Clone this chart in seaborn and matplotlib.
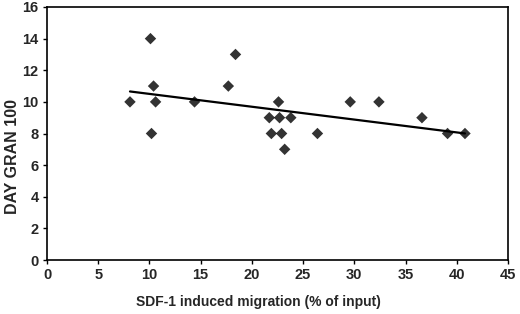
import numpy as np
import pandas as pd
import matplotlib
matplotlib.use("Agg")
import matplotlib.pyplot as plt
import seaborn as sns

# SDF-1 induced migration (% of input) vs DAY GRAN 100
migration = [8.1, 10.1, 10.2, 10.4, 10.6, 14.4, 17.7, 18.4, 21.7, 21.9, 22.6,
             22.7, 22.9, 23.2, 23.8, 26.4, 29.6, 32.4, 36.6, 39.1, 40.8]
day_gran = [10, 14, 8, 11, 10, 10, 11, 13, 9, 8, 10,
            9, 8, 7, 9, 8, 10, 10, 9, 8, 8]
x_ticks = [0, 5, 10, 15, 20, 25, 30, 35, 40, 45]
y_ticks = [0, 2, 4, 6, 8, 10, 12, 14, 16]

df = pd.DataFrame({"migration": migration, "day_gran": day_gran})

sns.set_style("white")
plt.rcParams["font.family"] = ["Liberation Sans", "DejaVu Sans"]
plt.rcParams["font.weight"] = "bold"

fig = plt.figure(figsize=(5.2, 3.14), dpi=100)
ax = fig.add_axes([47 / 520, 54 / 314, 461 / 520, 253 / 314])

sns.regplot(data=df, x="migration", y="day_gran", ax=ax, ci=None, truncate=True,
            marker="D", color="black",
            scatter_kws={"s": 34, "edgecolor": "none"},
            line_kws={"linewidth": 1.6})

ax.set_xlim(0, 45)
ax.set_ylim(0, 16)
ax.set_xticks(x_ticks)
ax.set_yticks(y_ticks)
ax.tick_params(direction="out", length=3, width=1, labelsize=10.5, pad=3,
               bottom=True, left=True, color="black")
for lab in ax.get_xticklabels() + ax.get_yticklabels():
    lab.set_fontweight("bold")
for sp in ax.spines.values():
    sp.set_visible(True)
    sp.set_color("black")
    sp.set_linewidth(1.2)

ax.set_xlabel("SDF-1 induced migration (% of input)", fontsize=10,
              fontweight="bold")
ax.set_ylabel("DAY GRAN 100", fontsize=11.5, fontweight="bold")
ax.xaxis.set_label_coords(0.458, -0.138)
ax.yaxis.set_label_coords(-0.058, 0.41)

fig.savefig("out.png", dpi=100)
